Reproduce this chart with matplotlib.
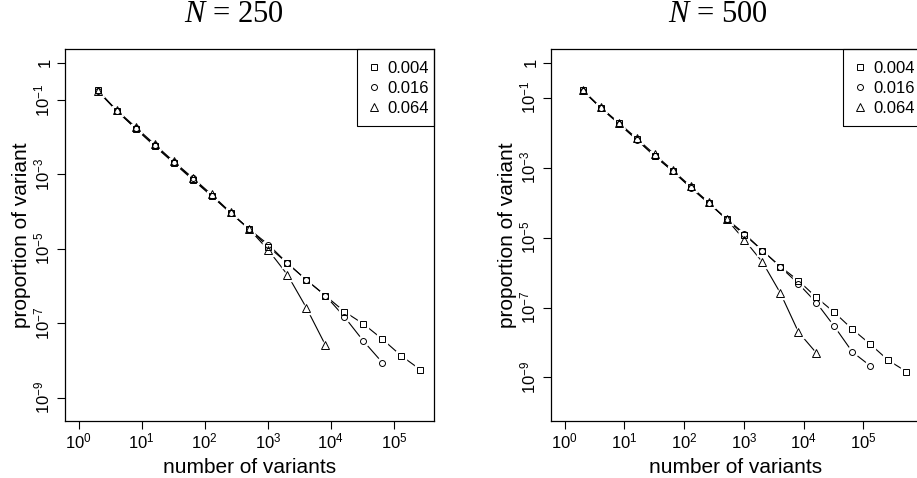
import numpy as np
import matplotlib
matplotlib.use('Agg')
import matplotlib.pyplot as plt
from matplotlib.patches import Rectangle

plt.rcParams['font.family'] = ['Liberation Sans', 'DejaVu Sans']
plt.rcParams['mathtext.fontset'] = 'custom'
plt.rcParams['mathtext.rm'] = 'Liberation Sans'
plt.rcParams['mathtext.it'] = 'Liberation Serif:italic'

# donnees (log10 de la proportion), x = 2^k
k_250 = np.arange(1, 19)
sq_250 = [-0.73, -1.29, -1.77, -2.24, -2.69, -3.14, -3.58, -4.04, -4.48,
          -4.95, -5.39, -5.84, -6.26, -6.69, -7.02, -7.43, -7.88, -8.25]
ci_250 = [-0.76, -1.29, -1.76, -2.22, -2.67, -3.11, -3.57, -4.03, -4.48,
          -4.89, -5.39, -5.84, -6.26, -6.83, -7.48, -8.06]
tr_250 = [-0.75, -1.27, -1.73, -2.19, -2.65, -3.09, -3.54, -4.02, -4.48,
          -5.04, -5.70, -6.59, -7.59]

k_500 = np.arange(1, 20)
sq_500 = [-0.78, -1.29, -1.73, -2.19, -2.67, -3.09, -3.56, -4.00, -4.48,
          -4.92, -5.37, -5.83, -6.23, -6.71, -7.14, -7.62, -8.05, -8.51, -8.83]
ci_500 = [-0.80, -1.29, -1.74, -2.20, -2.66, -3.10, -3.57, -4.02, -4.46,
          -4.89, -5.37, -5.84, -6.32, -6.86, -7.54, -8.27, -8.67]
tr_500 = [-0.78, -1.27, -1.71, -2.16, -2.62, -3.07, -3.53, -3.99, -4.47,
          -5.07, -5.70, -6.59, -7.70, -8.30]

legende = ['0.004', '0.016', '0.064']
marqueurs = ['s', 'o', '^']
tailles = [4.3, 4.3, 5.5]

fig = plt.figure(figsize=(9.17, 4.78), dpi=100)
ax1 = fig.add_axes([65 / 917, 1 - 421 / 478, 369 / 917, 372 / 478])
ax2 = fig.add_axes([551 / 917, 1 - 421 / 478, 369 / 917, 372 / 478])


def panneau(ax, k, series, kmax, ymin, titre, xt):
    for vals, m, t, lab in zip(series, marqueurs, tailles, legende):
        x = 2.0 ** k[:len(vals)]
        y = 10.0 ** np.array(vals)
        ax.plot(x, y, color='black', lw=0.8, zorder=1)
        ax.plot(x, y, ls='none', marker=m, ms=t + 3.5, mfc='white', mec='white', zorder=2)
        ax.plot(x, y, ls='none', marker=m, ms=t, mfc='none', mec='black', mew=0.7, zorder=3, label=lab)
    ax.set_xscale('log')
    ax.set_yscale('log')
    lx = np.log10(kmax)
    ax.set_xlim(10 ** (-0.04 * lx), 10 ** (1.04 * lx))
    ax.set_ylim(10 ** (ymin * 1.04), 10 ** (-0.04 * ymin))
    ax.set_xticks([10.0 ** i for i in range(6)])
    ax.set_xticklabels([r'$\mathregular{10^{%d}}$' % i for i in range(6)])
    ax.set_yticks([1, 1e-1, 1e-3, 1e-5, 1e-7, 1e-9])
    ax.set_yticklabels(['1'] + [r'$\mathregular{10^{%d}}$' % i for i in [-1, -3, -5, -7, -9]],
                       rotation=90, va='center')
    ax.minorticks_off()
    ax.tick_params(length=6, width=0.8, labelsize=12)
    ax.tick_params(axis='x', pad=1.5)
    ax.tick_params(axis='y', pad=3)
    for s in ax.spines.values():
        s.set_linewidth(0.9)
    ax.set_xlabel('number of variants', fontsize=15, labelpad=5)
    ax.set_ylabel('proportion of variant', fontsize=15, labelpad=1)
    fig.text(xt / 917, 1 - 15 / 478, titre, ha='center', va='center',
             fontsize=22, family='Liberation Serif')
    # cadre de la legende, a la maniere de R
    ax.add_patch(Rectangle((0.791, 0.793), 0.209, 0.207, transform=ax.transAxes,
                           fill=False, ec='black', lw=0.8, zorder=4, clip_on=False))
    ax.legend(loc='upper right', bbox_to_anchor=(0.985, 0.967), fontsize=12,
              frameon=False, borderaxespad=0, borderpad=0, handlelength=1.1,
              handletextpad=0.2, labelspacing=0.3)


panneau(ax1, k_250, [sq_250, ci_250, tr_250], 2.0 ** 18, -9.26, r'$N$ = 250', 234)
panneau(ax2, k_500, [sq_500, ci_500, tr_500], 2.0 ** 19, -9.85, r'$N$ = 500', 718)

plt.savefig('out.png', dpi=100)
